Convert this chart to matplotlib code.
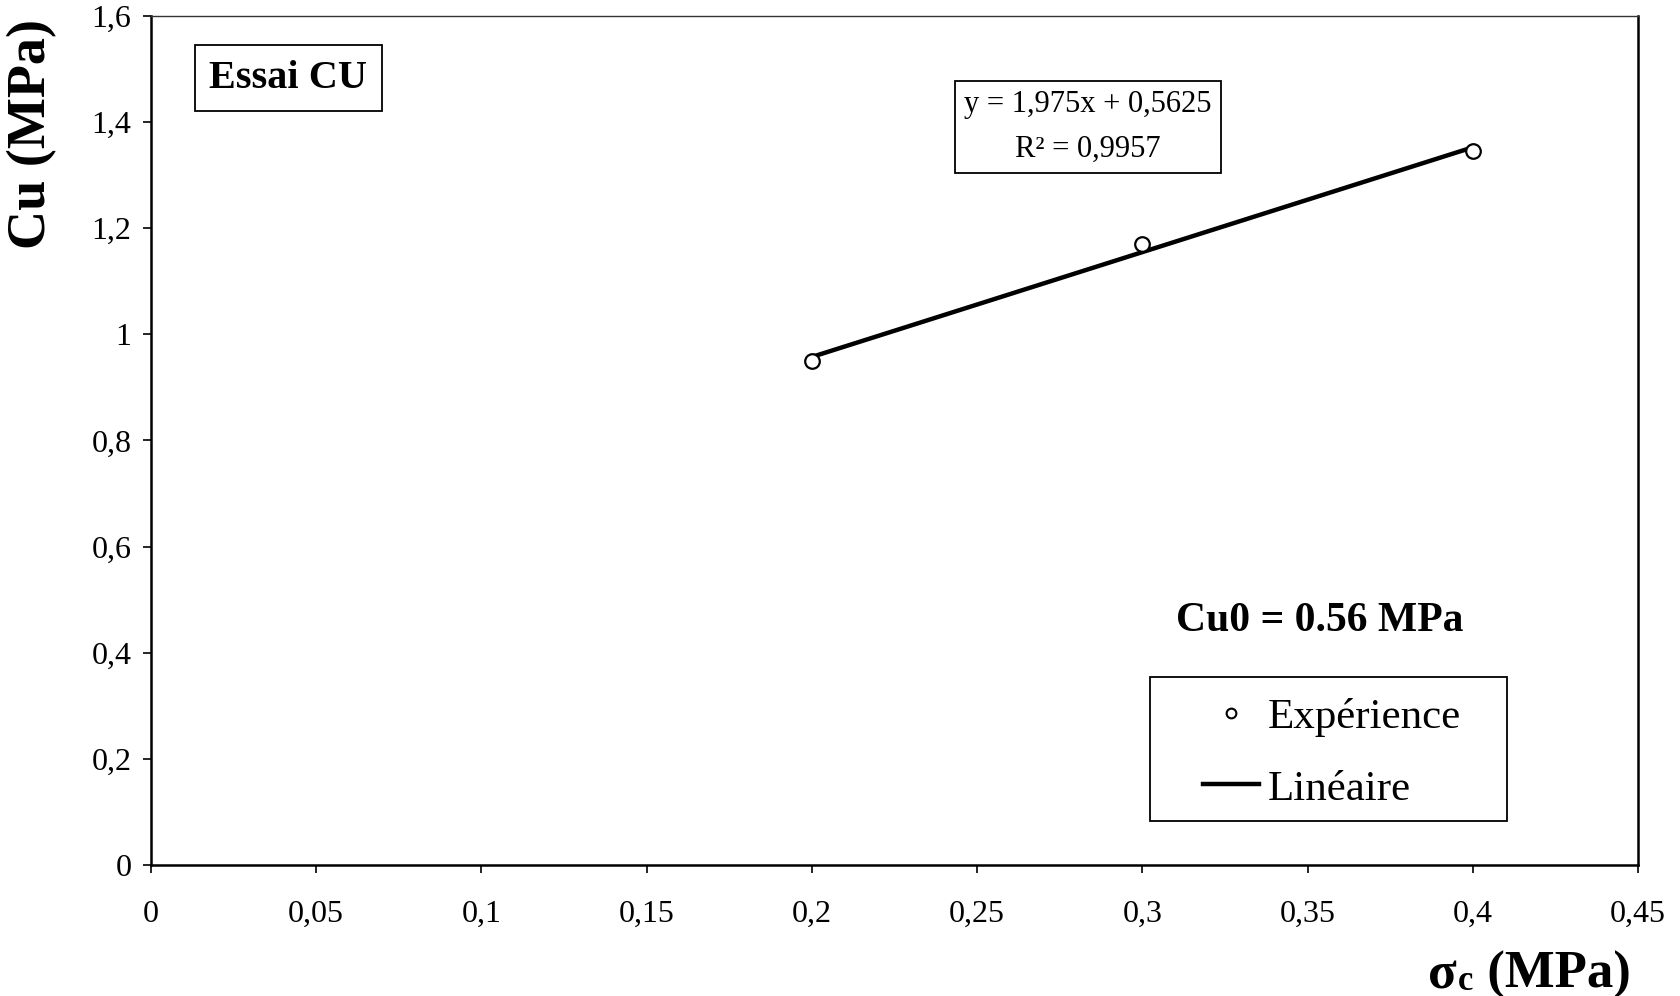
import matplotlib
matplotlib.use("Agg")
import matplotlib.pyplot as plt
from matplotlib.patches import Rectangle
from matplotlib.lines import Line2D

plt.rcParams['font.family'] = ['Liberation Serif', 'DejaVu Serif']

# Measured undrained cohesion vs confining stress (CU test)
sigma_c = [0.2, 0.3, 0.4]
cu = [0.95, 1.17, 1.345]

# Linear trend line (from the regression equation shown)
slope = 1.975
intercept = 0.5625
r2 = 0.9957
fit_x = [0.2, 0.4]

x_ticks = [0, 0.05, 0.1, 0.15, 0.2, 0.25, 0.3, 0.35, 0.4, 0.45]
x_tick_labels = ["0", "0,05", "0,1", "0,15", "0,2", "0,25", "0,3", "0,35", "0,4", "0,45"]
y_ticks = [0, 0.2, 0.4, 0.6, 0.8, 1.0, 1.2, 1.4, 1.6]
y_tick_labels = ["0", "0,2", "0,4", "0,6", "0,8", "1", "1,2", "1,4", "1,6"]

W, H = 1680, 996
fig = plt.figure(figsize=(W / 100, H / 100), dpi=100)
ax = fig.add_axes([151 / W, 1 - 865 / H, (1638 - 151) / W, (865 - 16) / H])

fit_y = [slope * x + intercept for x in fit_x]
ax.plot(fit_x, fit_y, color="black", lw=3.2, solid_capstyle="round", zorder=2)
ax.plot(sigma_c, cu, linestyle="none", marker="o", markersize=10.5,
        markerfacecolor="white", markeredgecolor="black", markeredgewidth=1.6, zorder=3)

ax.set_xlim(0, 0.45)
ax.set_ylim(0, 1.6)
ax.set_xticks(x_ticks)
ax.set_xticklabels(x_tick_labels)
ax.set_yticks(y_ticks)
ax.set_yticklabels(y_tick_labels)
ax.tick_params(axis="both", direction="out", length=6, width=1.2, labelsize=23, color="black")
ax.tick_params(axis="x", pad=19)
ax.tick_params(axis="y", pad=8)

for side in ["left", "bottom", "right"]:
    ax.spines[side].set_linewidth(1.8)
    ax.spines[side].set_color("black")
ax.spines["top"].set_linewidth(1.0)
ax.spines["top"].set_color("#333333")

# Axis titles
fig.text(32 / W, 1 - 134 / H, "Cu (MPa)", rotation=90, fontsize=39, fontweight="bold",
         ha="center", va="center")
t_sig = fig.text(1428 / W, 1 - 988 / H, "σ", fontsize=38, fontweight="bold",
                 ha="left", va="baseline")
t_c = ax.annotate("c", xy=(1, 0), xycoords=t_sig, xytext=(1, 0.5), textcoords="offset points",
                  fontsize=25, fontweight="bold", ha="left", va="bottom")
ax.annotate(" (MPa)", xy=(1, 0), xycoords=t_c, xytext=(0, -0.5), textcoords="offset points",
            fontsize=38, fontweight="bold", ha="left", va="bottom")

# Annotations
ax.text(288 / W, 1 - 78 / H, "Essai CU", transform=fig.transFigure, fontsize=29,
        fontweight="bold", ha="center", va="center",
        bbox=dict(boxstyle="square,pad=0.36", facecolor="white", edgecolor="black", linewidth=1.3))

eq_text = "y = {:.3f}x + {:.4f}\nR² = {:.4f}".format(slope, intercept, r2).replace(".", ",")
ax.text(1088 / W, 1 - 127 / H, eq_text, transform=fig.transFigure, fontsize=22,
        ha="center", va="center", multialignment="center", linespacing=1.75,
        bbox=dict(boxstyle="square,pad=0.3", facecolor="white", edgecolor="black", linewidth=1.3))

ax.text(1320 / W, 1 - 621 / H, "Cu0 = 0.56 MPa", transform=fig.transFigure, fontsize=30,
        fontweight="bold", ha="center", va="center")

# Legend
box_x0, box_y0 = (1150 - 151) / 1487, (865 - 821) / 849
box_w, box_h = (1507 - 1150) / 1487, (821 - 677) / 849
ax.add_patch(Rectangle((box_x0, box_y0), box_w, box_h, transform=ax.transAxes,
                       facecolor="white", edgecolor="black", linewidth=1.3, zorder=4))
handles = [
    Line2D([], [], linestyle="none", marker="o", markersize=7, markerfacecolor="white",
           markeredgecolor="black", markeredgewidth=1.5),
    Line2D([], [], color="black", lw=3.2),
]
ax.legend(handles, ["Expérience", "Linéaire"], loc="center left",
          bbox_to_anchor=(box_x0 + 0.021, box_y0 + box_h / 2 - 0.005), frameon=False,
          fontsize=31, handlelength=1.3, handletextpad=0.2, labelspacing=0.75,
          borderpad=0.0).set_zorder(5)

fig.savefig("out.png", dpi=100, facecolor="white")
